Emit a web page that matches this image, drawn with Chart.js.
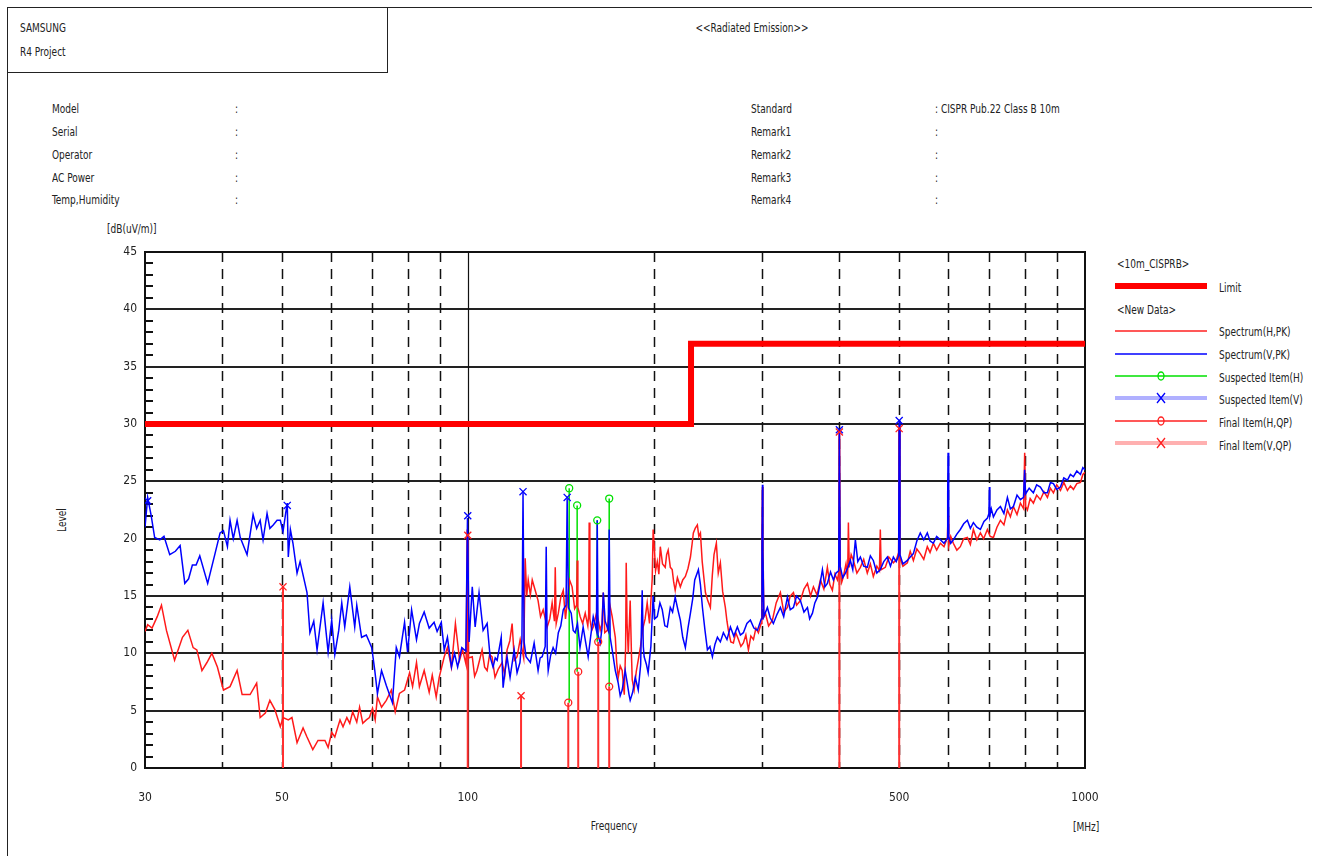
<!DOCTYPE html>
<html lang="en">
<head>
<meta charset="UTF-8">
<title>Radiated Emission</title>
<style>
    body { margin: 0; width: 1317px; height: 856px; background: #fff; position: relative; overflow: hidden;
           font-family: "Liberation Sans Narrow", "DejaVu Sans Condensed", sans-serif; font-size: 13px; color: #222; }
    #chart { position: absolute; left: 0; top: 0; }
    .t { position: absolute; height: 14px; line-height: 14px; white-space: nowrap; transform: scaleX(0.77); transform-origin: left center; }
    .c { transform-origin: center center; text-align: center; }
    #frameTop { position: absolute; left: 8px; top: 7px; width: 1304px; height: 0; border-top: 1.5px solid #222; }
    #frameLeft { position: absolute; left: 7px; top: 7px; width: 0; height: 849px; border-left: 1.5px solid #222; }
    #box { position: absolute; left: 7px; top: 7px; width: 379px; height: 64px; border: 1.5px solid #222; }
</style>
</head>
<body>
<div id="frameTop"></div>
<div id="frameLeft"></div>
<div id="box"></div>

<div class="t" style="left:20px;top:21px">SAMSUNG</div>
<div class="t" style="left:20px;top:45px">R4 Project</div>
<div class="t c" style="left:652px;top:21px;width:200px">&lt;&lt;Radiated Emission&gt;&gt;</div>

<div class="t" style="left:52px;top:102px">Model</div>
<div class="t" style="left:52px;top:125px">Serial</div>
<div class="t" style="left:52px;top:148px">Operator</div>
<div class="t" style="left:52px;top:171px">AC Power</div>
<div class="t" style="left:52px;top:193px">Temp,Humidity</div>
<div class="t" style="left:235px;top:102px">:</div>
<div class="t" style="left:235px;top:125px">:</div>
<div class="t" style="left:235px;top:148px">:</div>
<div class="t" style="left:235px;top:171px">:</div>
<div class="t" style="left:235px;top:193px">:</div>

<div class="t" style="left:751px;top:102px">Standard</div>
<div class="t" style="left:751px;top:125px">Remark1</div>
<div class="t" style="left:751px;top:148px">Remark2</div>
<div class="t" style="left:751px;top:171px">Remark3</div>
<div class="t" style="left:751px;top:193px">Remark4</div>
<div class="t" style="left:935px;top:102px">: CISPR Pub.22 Class B 10m</div>
<div class="t" style="left:935px;top:125px">:</div>
<div class="t" style="left:935px;top:148px">:</div>
<div class="t" style="left:935px;top:171px">:</div>
<div class="t" style="left:935px;top:193px">:</div>

<div class="t" style="left:107px;top:222px">[dB(uV/m)]</div>
<div class="t c" style="left:32px;top:513px;width:60px;transform:rotate(-90deg) scaleX(0.77)">Level</div>
<div class="t c" style="left:564px;top:819px;width:100px">Frequency</div>
<div class="t" style="left:1073px;top:820px">[MHz]</div>

<div class="t" style="left:1117px;top:257px">&lt;10m_CISPRB&gt;</div>
<div class="t" style="left:1219px;top:281px">Limit</div>
<div class="t" style="left:1117px;top:303px">&lt;New Data&gt;</div>
<div class="t" style="left:1219px;top:325px">Spectrum(H,PK)</div>
<div class="t" style="left:1219px;top:348px">Spectrum(V,PK)</div>
<div class="t" style="left:1219px;top:371px">Suspected Item(H)</div>
<div class="t" style="left:1219px;top:393px">Suspected Item(V)</div>
<div class="t" style="left:1219px;top:416px">Final Item(H,QP)</div>
<div class="t" style="left:1219px;top:439px">Final Item(V,QP)</div>

<canvas id="chart" width="1317" height="856"></canvas>

<script src="https://cdn.jsdelivr.net/npm/chart.js"></script>
<script>
    // frequency [MHz], level [dB(uV/m)]
    const limitLine = [[30, 30], [230, 30], [230, 37], [1000, 37]];

    const spectrumH = [
        [30.0,11.9],[30.3,12.5],[30.8,12.2],[31.4,13.2],[31.9,14.2],[32.5,12.0],[33.5,9.4],[34.5,11.4],[35.2,12.0],[35.9,10.5],
        [36.4,10.3],[37.1,8.5],[37.8,9.2],[38.5,10.0],[39.3,8.8],[40.2,6.8],[41.2,7.1],[42.3,8.5],[43.1,6.4],[44.4,6.4],
        [45.5,7.4],[46.1,4.4],[47.0,4.8],[47.8,5.9],[48.7,5.1],[49.7,3.6],[50.2,4.4],[51.2,4.2],[51.9,4.4],[52.9,2.2],
        [54.1,3.5],[54.9,2.7],[56.1,1.6],[57.2,2.4],[58.7,2.4],[59.4,1.8],[60.2,3.1],[60.9,2.7],[62.1,4.2],[62.8,3.6],
        [63.7,4.4],[64.4,3.9],[65.1,4.9],[66.1,4.0],[66.8,5.3],[67.6,3.9],[68.5,4.2],[69.3,4.4],[70.1,5.2],[70.8,4.2],
        [71.4,6.2],[72.5,5.3],[73.8,5.9],[75.2,6.8],[76.3,4.9],[77.5,6.5],[79.0,6.8],[80.5,8.3],[81.4,7.1],[82.6,9.2],
        [83.5,7.1],[85.0,8.5],[86.6,6.6],[87.6,8.1],[88.9,6.2],[89.9,7.9],[91.6,9.7],[92.7,10.5],[94.1,8.8],[95.5,12.6],
        [97.0,9.4],[98.1,10.3],[99.4,9.0],[99.8,20.8],[100.3,9.6],[101.7,9.7],[102.6,8.0],[103.5,8.5],[104.5,9.4],[105.5,10.3],
        [106.5,8.8],[107.5,8.5],[108.5,9.9],[109.5,9.7],[110.7,7.9],[112.0,8.6],[113.7,9.2],[114.8,8.1],[115.8,10.3],[117.0,11.1],
        [118.0,12.6],[119.0,9.4],[120.2,9.7],[121.6,11.2],[123.2,9.6],[123.9,18.3],[124.6,15.0],[125.3,16.4],[126.3,15.1],[127.2,16.4],
        [128.6,15.5],[130.0,14.6],[131.2,13.2],[132.5,13.8],[134.5,12.3],[135.8,13.0],[137.0,14.4],[138.2,12.8],[138.6,17.5],[139.1,12.6],
        [140.2,13.5],[141.5,14.9],[142.8,15.5],[144.0,13.0],[144.9,14.4],[146.2,16.4],[147.6,15.8],[149.0,13.9],[150.1,14.2],[150.4,18.1],
        [150.8,14.0],[152.1,13.2],[153.5,12.6],[155.0,13.5],[156.5,12.4],[157.0,13.4],[157.3,21.4],[157.7,13.0],[158.8,12.0],[159.7,12.3],
        [161.8,13.6],[163.9,12.0],[165.0,12.6],[165.8,15.3],[166.7,11.8],[168.3,12.0],[169.8,14.3],[171.4,13.2],[172.5,12.2],[173.4,11.4],
        [174.3,9.2],[175.3,7.9],[176.6,8.9],[177.9,8.5],[179.3,6.4],[180.2,10.5],[180.6,17.9],[181.2,12.6],[182.0,10.0],[183.3,14.6],
        [184.2,9.8],[184.7,7.7],[186.0,6.8],[187.5,8.4],[188.9,9.4],[190.5,10.6],[192.4,12.3],[193.8,13.0],[195.3,14.4],[197.0,12.6],
        [199.0,16.5],[199.7,20.8],[200.6,19.2],[201.5,17.2],[202.8,18.0],[204.0,16.9],[205.1,19.3],[206.8,17.8],[208.9,17.5],[210.0,18.6],
        [211.2,19.0],[212.9,17.5],[214.4,17.3],[215.6,16.2],[216.8,15.5],[218.6,16.6],[221.0,15.8],[223.0,16.4],[225.2,16.7],[227.4,17.4],
        [229.5,18.4],[231.0,19.6],[232.0,20.5],[233.6,20.9],[235.5,21.2],[236.8,20.2],[238.2,20.5],[239.8,18.0],[242.7,15.3],[244.8,14.6],
        [247.2,14.0],[249.0,16.8],[250.6,18.6],[252.8,19.6],[254.6,17.0],[256.6,17.9],[258.8,15.4],[261.4,14.0],[263.0,12.8],[264.4,12.0],
        [266.8,11.0],[269.4,10.9],[271.8,11.8],[274.5,11.2],[277.0,10.6],[279.6,10.9],[282.2,11.6],[284.9,10.3],[287.5,11.5],[290.3,11.2],
        [293.0,12.2],[295.7,11.8],[298.7,12.6],[299.6,20.0],[300.2,24.5],[300.8,19.5],[301.8,13.2],[303.6,13.5],[307.2,12.4],[311.6,12.9],
        [316.0,14.4],[321.0,15.3],[325.0,13.6],[329.5,14.0],[333.0,15.0],[337.0,15.3],[341.0,14.2],[345.9,14.6],[350.5,15.6],[355.1,16.1],
        [359.2,15.0],[363.1,15.8],[368.0,15.1],[372.7,16.4],[377.5,15.6],[382.5,17.5],[386.0,16.0],[389.7,15.5],[393.4,16.9],[397.1,16.4],
        [399.0,17.0],[400.0,29.0],[401.2,17.4],[403.5,16.2],[406.1,16.7],[410.0,17.8],[412.5,16.5],[413.7,21.4],[415.0,17.5],[418.0,18.6],
        [421.5,18.1],[427.0,17.0],[432.6,17.5],[438.0,18.2],[443.9,17.0],[449.0,17.8],[454.0,16.7],[460.0,17.6],[464.5,17.2],[466.0,20.8],
        [467.5,17.3],[474.8,17.5],[481.0,18.4],[489.3,17.9],[495.0,18.2],[499.0,18.8],[500.0,29.6],[501.5,18.3],[507.0,17.6],[515.5,17.9],
        [521.0,18.9],[527.2,18.1],[534.0,19.1],[540.9,18.7],[548.0,18.2],[555.3,19.3],[561.0,18.8],[567.9,19.6],[575.0,19.0],[583.0,19.6],
        [591.0,19.3],[598.5,20.1],[600.0,22.0],[601.5,19.4],[606.0,20.2],[611.9,19.6],[620.0,19.0],[628.1,19.3],[636.0,20.0],[644.8,20.1],
        [652.0,19.5],[659.4,20.8],[668.0,19.9],[676.9,20.5],[685.0,20.0],[694.8,20.8],[702.0,20.2],[710.6,20.1],[720.0,21.0],[729.4,21.6],
        [739.0,21.2],[748.7,22.5],[757.0,21.9],[765.6,22.8],[776.0,22.1],[785.9,23.1],[795.5,22.6],[798.5,27.5],[801.5,22.8],[806.6,22.5],
        [815.0,23.5],[824.9,23.1],[835.0,23.8],[846.7,23.4],[858.0,24.1],[869.2,23.6],[879.0,24.4],[888.9,24.0],[900.0,24.7],[912.5,24.2],
        [924.0,24.9],[936.6,24.2],[947.0,24.6],[957.8,24.3],[970.0,24.8],[983.2,24.9],[992.0,25.6],[1000.0,25.8]
    ];

    const spectrumV = [
        [30.0,21.0],[30.3,23.6],[30.7,22.0],[31.1,20.1],[31.7,19.9],[32.2,20.2],[32.9,18.6],[33.6,18.9],[34.2,19.4],[34.8,16.1],
        [35.3,16.5],[35.8,17.7],[36.3,17.7],[36.8,18.5],[37.9,16.1],[39.0,18.8],[39.7,20.5],[40.2,20.7],[40.8,19.3],[41.2,21.6],
        [41.7,20.0],[42.3,21.6],[42.8,20.1],[43.9,18.6],[44.9,22.1],[45.5,20.9],[46.1,21.6],[46.6,19.9],[47.3,22.2],[47.8,20.9],
        [48.4,21.2],[49.1,21.6],[49.7,21.6],[50.2,20.6],[50.7,22.2],[51.0,23.1],[51.2,18.4],[51.6,20.8],[52.1,19.6],[52.9,17.0],
        [53.5,18.0],[54.9,15.3],[55.5,11.8],[56.3,12.8],[57.0,10.3],[58.3,14.4],[59.4,10.1],[60.2,12.9],[60.9,9.9],[61.8,12.0],
        [62.5,14.4],[63.2,12.3],[64.4,15.8],[65.6,12.3],[66.1,14.2],[67.3,11.4],[68.5,11.6],[69.9,10.5],[70.7,8.5],[71.4,6.5],
        [72.5,8.5],[73.8,7.2],[75.5,5.7],[76.6,10.5],[77.5,9.7],[79.0,12.7],[79.9,10.1],[81.1,13.8],[82.6,11.2],[83.5,12.6],
        [85.0,13.6],[86.6,12.2],[88.2,12.7],[89.2,11.9],[90.6,12.7],[91.6,10.3],[92.7,11.4],[94.1,8.8],[95.2,10.0],[96.3,8.8],
        [97.8,10.5],[99.3,10.2],[99.9,21.8],[100.5,11.0],[101.7,15.8],[102.8,12.3],[104.3,15.3],[105.9,12.0],[107.5,12.6],[108.7,9.7],
        [109.9,8.8],[110.8,9.6],[111.6,9.4],[113.3,11.4],[114.1,7.0],[115.0,8.6],[115.8,9.7],[117.1,7.9],[118.9,10.3],[120.2,8.3],
        [121.5,9.2],[122.4,11.2],[122.9,24.0],[123.4,11.0],[124.3,9.7],[126.3,9.2],[128.1,10.9],[130.0,8.5],[131.0,9.6],[132.0,9.7],
        [133.5,10.6],[134.0,19.3],[134.5,10.4],[135.0,8.5],[136.2,9.8],[137.5,10.5],[138.8,10.0],[140.2,11.8],[141.5,12.4],[142.8,13.8],
        [144.3,14.2],[144.9,23.5],[145.6,14.0],[147.1,13.5],[148.2,12.0],[149.3,11.8],[150.6,12.6],[152.0,10.5],[153.8,12.3],[155.2,11.0],
        [156.7,9.7],[158.2,11.5],[159.7,13.2],[161.6,12.0],[162.1,21.6],[162.6,11.6],[163.9,10.9],[165.0,12.2],[165.8,15.3],[167.0,12.8],
        [168.9,12.0],[169.5,20.8],[170.1,11.4],[171.4,10.3],[173.4,8.5],[175.3,7.4],[176.6,6.3],[177.9,6.8],[179.9,8.5],[181.3,7.4],
        [182.5,6.4],[183.3,5.9],[185.0,6.6],[186.8,7.9],[188.9,6.8],[190.6,9.0],[191.7,15.5],[192.5,10.6],[193.1,9.7],[194.8,9.0],
        [196.0,8.3],[198.0,10.6],[199.7,15.0],[200.8,13.0],[202.8,13.2],[204.8,14.4],[206.6,13.8],[208.6,12.4],[210.5,12.3],[212.9,14.0],
        [214.7,13.6],[216.8,14.9],[219.0,13.8],[221.0,12.9],[223.0,11.4],[225.2,10.5],[227.4,12.2],[229.5,13.5],[231.5,14.8],[233.2,16.4],
        [236.4,17.3],[238.2,16.0],[240.0,14.0],[242.3,12.0],[244.5,10.3],[246.8,10.6],[249.1,9.7],[251.5,10.8],[253.8,11.4],[256.6,11.0],
        [259.5,11.8],[263.0,11.2],[266.4,12.3],[269.8,11.5],[273.4,12.3],[276.5,11.6],[279.6,11.8],[283.3,12.6],[287.0,12.9],[290.8,12.2],
        [294.6,12.0],[298.9,13.0],[299.7,19.0],[300.2,24.7],[300.7,19.0],[301.8,13.2],[305.8,14.0],[309.0,13.1],[312.7,12.6],[317.0,13.4],
        [321.0,14.0],[325.0,13.2],[329.5,14.9],[333.0,13.8],[337.0,14.0],[341.0,15.0],[345.9,14.6],[350.5,13.6],[355.1,14.0],[358.0,13.0],
        [361.8,13.5],[365.0,14.4],[368.6,14.9],[372.0,16.0],[375.5,17.3],[379.0,15.8],[382.5,16.1],[387.0,17.1],[391.2,16.4],[395.0,17.0],
        [399.0,17.2],[400.0,29.5],[401.2,17.6],[405.0,16.6],[409.1,17.0],[413.0,17.5],[416.8,18.1],[420.5,17.3],[424.6,19.9],[428.5,18.0],
        [432.6,18.4],[438.0,17.6],[443.9,17.5],[449.0,18.5],[454.0,18.1],[460.0,17.0],[466.0,17.3],[472.0,18.0],[478.4,18.4],[484.0,17.6],
        [489.3,18.4],[494.5,18.0],[499.0,18.5],[500.0,30.3],[501.5,18.6],[507.0,17.8],[515.5,18.1],[521.0,18.4],[527.2,18.7],[534.0,19.8],
        [540.9,20.5],[548.0,19.9],[555.3,20.5],[561.0,19.8],[567.9,19.6],[575.0,20.2],[583.0,19.9],[591.0,19.6],[598.0,20.0],[599.2,24.0],
        [600.0,27.5],[600.8,23.0],[602.0,20.2],[606.0,19.6],[611.9,19.9],[620.0,20.4],[628.1,20.8],[636.0,21.3],[644.8,21.6],[652.0,20.9],
        [659.4,21.4],[668.0,21.0],[676.9,20.8],[686.0,21.5],[695.0,21.8],[698.8,22.2],[700.0,24.5],[701.2,22.0],[705.0,22.6],[710.6,21.9],
        [720.0,22.5],[729.4,22.8],[739.0,22.2],[748.7,23.6],[757.0,22.6],[765.6,22.8],[776.0,23.8],[785.9,23.4],[795.0,23.6],[798.3,26.0],
        [801.0,23.9],[812.0,24.4],[824.9,24.0],[835.0,24.7],[846.7,24.5],[858.0,24.0],[869.2,24.0],[879.0,24.9],[888.9,24.8],[900.0,24.3],
        [912.5,24.5],[924.0,25.3],[936.6,25.1],[947.0,25.6],[957.8,25.4],[970.0,25.9],[983.2,25.6],[992.0,26.2],[1000.0,26.0]
    ];

    const suspectedH = [[146.0, 24.4], [150.4, 22.9], [162.1, 21.6], [169.5, 23.5]];
    const suspectedV = [[30.3, 23.3], [51.0, 22.9], [100.0, 22.0], [122.9, 24.1], [144.9, 23.6], [400, 29.5], [500, 30.3]];
    const finalH = [[145.5, 5.7], [151.0, 8.4], [162.7, 11.0], [169.5, 7.1]];
    const finalV = [[50.2, 15.8], [100.0, 20.3], [122.0, 6.3], [400, 29.3], [500, 29.6]];

    const xGridLines = [40, 50, 60, 70, 80, 90, 100, 200, 300, 400, 500, 600, 700, 800, 900];
    const xTickLabels = [30, 50, 100, 500, 1000];

    const pts = arr => arr.map(p => ({ x: p[0], y: p[1] }));
    // vertical stems from 0 up to each item, broken with nulls
    const stems = arr => arr.flatMap(p => [{ x: p[0], y: 0 }, { x: p[0], y: p[1] }, { x: p[0], y: null }]);
    // suspected H stems run from the matching QP reading up to the peak reading
    const suspectStems = suspectedH.flatMap((p, i) => [{ x: p[0], y: finalH[i][1] }, { x: p[0], y: p[1] }, { x: p[0], y: null }]);

    const frameGrid = {
        id: 'frameGrid',
        beforeDatasetsDraw(chart) {
            const { ctx, chartArea: a, scales: { x, y } } = chart;
            ctx.save();
            ctx.strokeStyle = '#111';
            xGridLines.forEach(f => {
                const px = Math.round(x.getPixelForValue(f)) + 0.5;
                ctx.beginPath();
                ctx.lineWidth = f === 100 ? 1.2 : 1.5;
                ctx.setLineDash(f === 100 ? [] : [10, 7]);
                ctx.moveTo(px, a.top);
                ctx.lineTo(px, a.bottom);
                ctx.stroke();
            });
            ctx.setLineDash([]);
            ctx.lineWidth = 2;
            for (let v = 1; v < 45; v++) {
                if (v % 5 === 0) continue;
                const py = Math.round(y.getPixelForValue(v));
                ctx.beginPath();
                ctx.moveTo(a.left, py);
                ctx.lineTo(a.left + 8, py);
                ctx.stroke();
            }
            ctx.lineWidth = 2;
            ctx.strokeRect(a.left, a.top, a.right - a.left, a.bottom - a.top);
            ctx.restore();
        }
    };

    const legendDraw = {
        id: 'legendDraw',
        afterDraw(chart) {
            const ctx = chart.ctx;
            const row = (yy, color, width, marker, mColor) => {
                ctx.beginPath();
                ctx.strokeStyle = color;
                ctx.lineWidth = width;
                ctx.moveTo(1115, yy);
                ctx.lineTo(1207, yy);
                ctx.stroke();
                ctx.strokeStyle = mColor;
                ctx.lineWidth = 1.3;
                ctx.beginPath();
                if (marker === 'o') {
                    ctx.ellipse(1161, yy, 3, 4, 0, 0, Math.PI * 2);
                } else if (marker === 'x') {
                    ctx.moveTo(1157, yy - 5); ctx.lineTo(1165, yy + 5);
                    ctx.moveTo(1165, yy - 5); ctx.lineTo(1157, yy + 5);
                }
                ctx.stroke();
            };
            ctx.save();
            row(286, '#ff0000', 6, null);
            row(331, '#ff2020', 1.5, null);
            row(354, '#0000ff', 1.5, null);
            row(376, '#00e000', 1.5, 'o', '#00e000');
            row(398, '#b0b0ff', 4, 'x', '#0000ff');
            row(421, '#ff2020', 1.5, 'o', '#ff2020');
            row(443, '#ffb0b0', 4, 'x', '#ff2020');
            ctx.restore();
        }
    };

    const markerSet = (label, data, color, style) => ({
        label, data: pts(data), showLine: false, pointStyle: style,
        pointRadius: style === 'circle' ? 3.5 : 5, pointBorderColor: color, pointBackgroundColor: 'rgba(0,0,0,0)',
        pointBorderWidth: 1.3, borderColor: color
    });

    const tickFont = { family: '"Liberation Sans Narrow", "DejaVu Sans Condensed", sans-serif', size: 12 };

    new Chart(document.getElementById('chart'), {
        type: 'line',
        data: {
            datasets: [
                markerSet('Final Item(V,QP)', finalV, '#ff2020', 'crossRot'),
                markerSet('Final Item(H,QP)', finalH, '#ff2020', 'circle'),
                markerSet('Suspected Item(V)', suspectedV, '#0000ff', 'crossRot'),
                markerSet('Suspected Item(H)', suspectedH, '#00e000', 'circle'),
                { label: 'Limit', data: pts(limitLine), borderColor: '#ff0000', borderWidth: 6, pointRadius: 0 },
                { label: 'Spectrum(V,PK)', data: pts(spectrumV), borderColor: '#0000ff', borderWidth: 1.5, pointRadius: 0 },
                { label: 'Spectrum(H,PK)', data: pts(spectrumH), borderColor: '#ff1a1a', borderWidth: 1.5, pointRadius: 0 },
                { label: 'stemsFinal', data: stems(finalH.concat(finalV)), borderColor: '#ff3030', borderWidth: 2, pointRadius: 0, spanGaps: false },
                { label: 'stemsSuspected', data: suspectStems, borderColor: '#00e000', borderWidth: 1.5, pointRadius: 0, spanGaps: false }
            ]
        },
        options: {
            responsive: false,
            animation: false,
            layout: { padding: { left: 100, right: 232, top: 252, bottom: 48 } },
            plugins: { legend: { display: false }, tooltip: { enabled: false } },
            elements: { line: { tension: 0 } },
            scales: {
                x: {
                    type: 'logarithmic', min: 30, max: 1000,
                    afterBuildTicks: axis => { axis.ticks = xTickLabels.map(v => ({ value: v })); },
                    afterFit: s => { s.height = 40; },
                    grid: { display: false },
                    border: { display: false },
                    ticks: { autoSkip: false, maxRotation: 0, padding: 15, color: '#222', font: tickFont, callback: v => String(v) }
                },
                y: {
                    min: 0, max: 45,
                    afterFit: s => { s.width = 45; },
                    grid: { color: '#222', lineWidth: 2, drawTicks: false },
                    border: { display: false },
                    ticks: { stepSize: 5, padding: 8, color: '#222', font: tickFont }
                }
            }
        },
        plugins: [frameGrid, legendDraw]
    });
</script>
</body>
</html>
